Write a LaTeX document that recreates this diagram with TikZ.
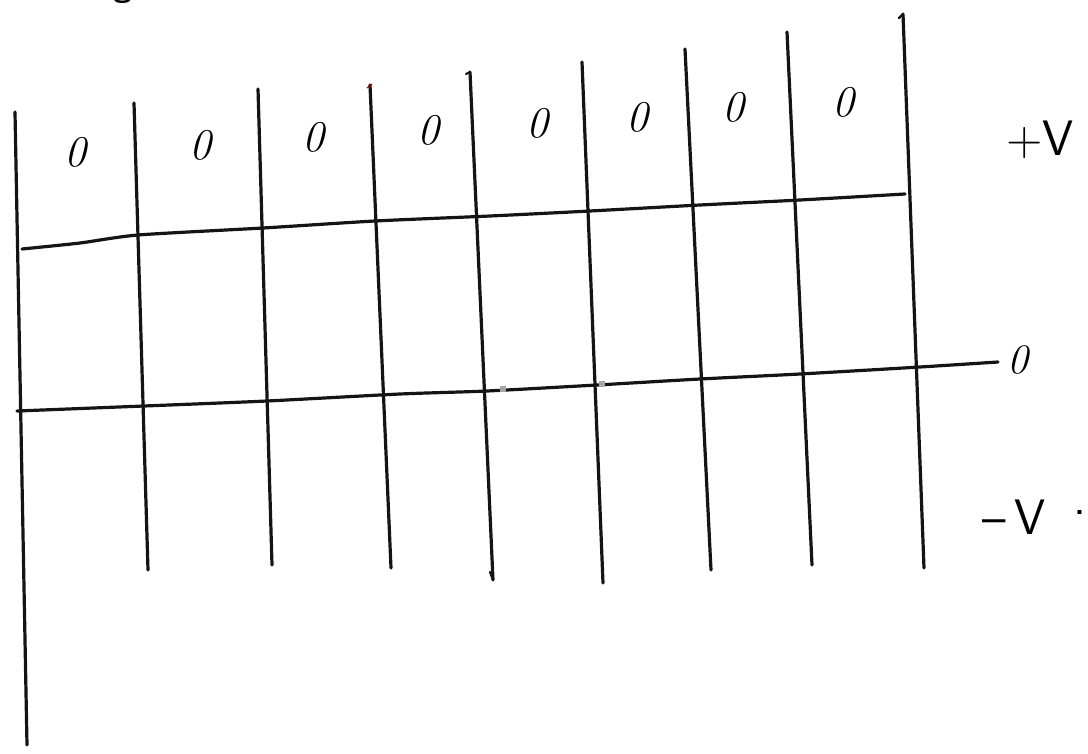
\documentclass[tikz,border=0pt]{standalone}
\begin{document}
\begin{tikzpicture}[x=1bp,y=-1bp,
  ink/.style={line width=3.2bp, line cap=round, line join=round, black!92},
  zero/.style={font=\fontsize{44}{46}\selectfont\itshape, inner sep=0},
  lbl/.style={font=\fontsize{50}{52}\selectfont\sffamily, inner sep=0}]
\useasboundingbox (0,0) rectangle (1088,754);
% partly cut heading letter
\node[inner sep=0, anchor=south, font=\fontsize{34}{36}\selectfont\sffamily\bfseries] (g) at (123,4) {g};
% vertical lines
\foreach \i/\xt/\yt/\xb/\yb in {1/15/112/27/745, 2/134/103/148/570, 3/258/89/272/565, 4/370/85/391/568, 5/470/72/493/580, 6/582/62/603/583, 7/685/49/711/570, 8/787/32/812/565, 9/903/14/924/568}{
  \coordinate (t\i) at (\xt,\yt);
  \coordinate (b\i) at (\xb,\yb);
  \draw[ink] (t\i) -- (b\i);
}
% small marks at line tops
\draw[line width=1.2bp, red!60!black] (367,88) -- (372,84);
\draw[ink, line width=2.2bp] (466,74) -- (470,72);
\draw[ink, line width=2.2bp] (899,18) -- (903,14);
\draw[ink, line width=2.2bp] (490,572) -- (493,580);
% +V boundary line
\draw[ink] plot[smooth, tension=0.4] coordinates {(22,249) (80,243) (138,235) (263,228) (375,221) (490,216) (590,211) (700,205) (800,200) (905,194)};
% zero line
\draw[ink] plot[smooth, tension=0.4] coordinates {(17,411) (144,406) (267,401) (400,394) (487,391) (597,385) (700,379) (800,374) (920,367) (998,362)};
% scan specks
\fill[gray!70] (500,386) rectangle (506,392);
\fill[gray!70] (599,381) rectangle (605,387);
% zeros in top row
\foreach \i/\x/\y in {1/75/152, 2/200/145, 3/313/137, 4/428/130, 5/537/123, 6/637/117, 7/733/107, 8/843/102}{
  \node[zero] (z\i) at (\x,\y) {0};
}
% labels
\node[lbl] (pv) at (1040,140) {+V};
\node[lbl, font=\fontsize{42}{44}\selectfont\itshape] (zr) at (1018,360) {0};
\node[lbl] (mv) at (1014,517) {--\,V};
\node[lbl] (dot) at (1080,513) {.};
\end{tikzpicture}
\end{document}
